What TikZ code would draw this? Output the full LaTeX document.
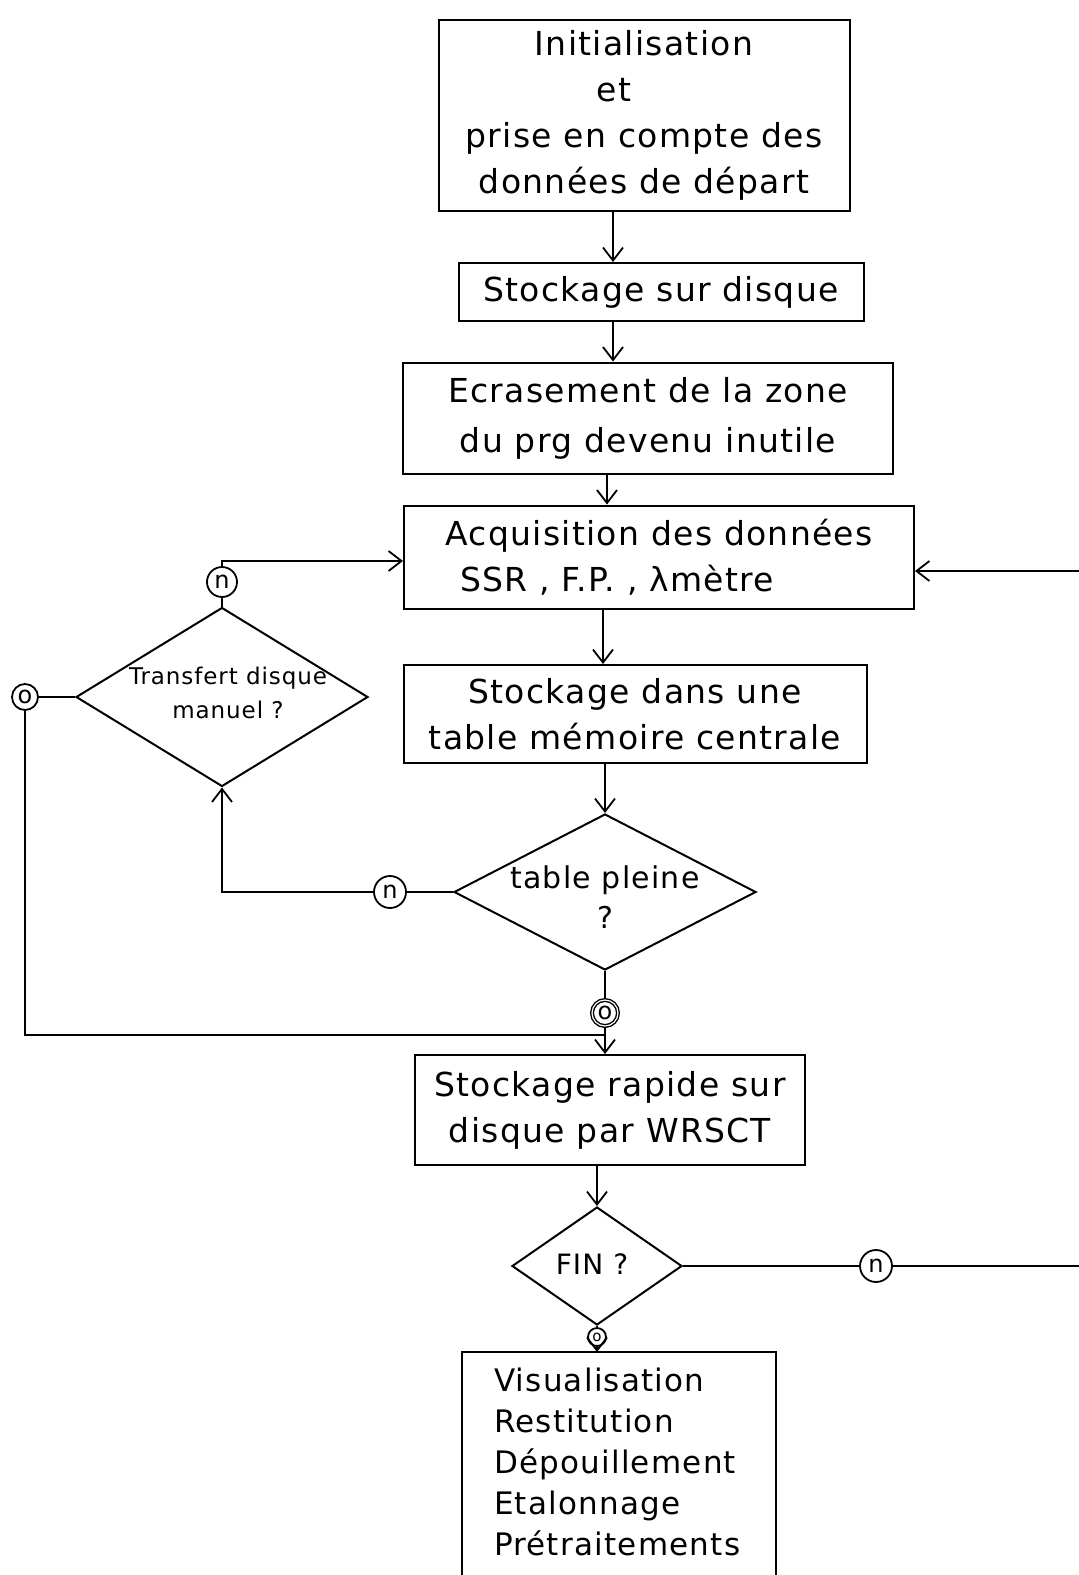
\documentclass[tikz,border=0pt]{standalone}
\usepackage{fontspec}
\setmainfont[LetterSpace=4]{DejaVu Sans}
\usetikzlibrary{shapes.geometric,arrows.meta,calc}
\begin{document}
\begin{tikzpicture}[x=1pt,y=-1pt,
  line width=2pt,
  boxnode/.style={draw,rectangle,inner sep=0pt,align=center,font=\fontsize{33}{46}\selectfont},
  dianode/.style={draw,diamond,inner sep=0pt},
  dtext/.style={inner sep=0pt,align=center},
  conn/.style={draw,circle,inner sep=0pt,line width=1.8pt,font=\fontsize{24}{24}\selectfont},
  arr/.style={-{Straight Barb[length=13pt,width=20pt,line width=1.8pt]}}
]
\useasboundingbox[fill=white] (0,0) rectangle (1079,1575);

% boxes
\node[boxnode,minimum width=411pt,minimum height=191pt] (b1) at (644,115)
  {Initialisation\\\hspace*{-60pt}et\\prise en compte des\\données de départ};
\node[boxnode,minimum width=405pt,minimum height=58pt] (b2) at (661,292) {Stockage sur disque};
\node[boxnode,minimum width=490pt,minimum height=111pt,font=\fontsize{33}{50}\selectfont] (b3) at (648,418)
  {Ecrasement de la zone\\du prg devenu inutile};
\node[boxnode,minimum width=510pt,minimum height=103pt,align=left] (b4) at (659,557)
  {Acquisition des données\\\hspace*{15pt}SSR , F.P. , λmètre};
\node[boxnode,minimum width=463pt,minimum height=98pt] (b5) at (635,714)
  {Stockage dans une\\table mémoire centrale};
\node[boxnode,minimum width=390pt,minimum height=110pt] (b6) at (610,1110)
  {Stockage rapide sur\\disque par WRSCT};
\node[inner sep=0pt,minimum width=312pt,minimum height=218pt,text width=250pt,align=left,
  font=\fontsize{31}{41}\selectfont] (b7) at (619,1462)
  {Visualisation\\Restitution\\Dépouillement\\Etalonnage\\Prétraitements};
\draw ([yshift=-40pt]b7.south west) -- (b7.north west) -- (b7.north east) -- ([yshift=-40pt]b7.south east);

% diamonds
\node[dianode,minimum width=292pt,minimum height=179pt] (d1) at (222,697) {};
\node[dtext,font=\fontsize{23}{34}\selectfont] (d1t) at (228,693) {Transfert disque\\manuel ?};
\node[dianode,minimum width=302pt,minimum height=156pt] (d2) at (605,892) {};
\node[dtext,font=\fontsize{30}{40}\selectfont] (d2t) at (605,897) {table pleine\\?};
\node[dianode,minimum width=170pt,minimum height=118pt] (d3) at (597,1266) {};
\node[dtext,font=\fontsize{28}{28}\selectfont] (d3t) at (592,1264) {FIN ?};

% connector circles
\node[conn,minimum size=30pt] (n1) at (222,582) {n};
\node[conn,minimum size=26pt] (o1) at (25,697) {o};
\node[conn,minimum size=32pt] (n2) at (390,892) {n};
\node[conn,minimum size=26pt,double,double distance=1.2pt,line width=1.4pt] (o2) at (605,1013) {o};
\node[conn,minimum size=32pt] (n3) at (876,1266) {n};
\node[conn,minimum size=18pt,font=\fontsize{15}{15}\selectfont] (o3) at (597,1337) {o};

\coordinate (xa) at (613,0);
\coordinate (xb) at (607,0);
\coordinate (xc) at (603,0);
\coordinate (rt) at (1100,0);
\coordinate (jn) at (605,1035);

% main chain
\draw[arr] (b1.south -| xa) -- (b2.north -| xa);
\draw[arr] (b2.south -| xa) -- (b3.north -| xa);
\draw[arr] (b3.south -| xb) -- (b4.north -| xb);
\draw[arr] (b4.south -| xc) -- (b5.north -| xc);
\draw[arr] (b5.south -| d2.north) -- (d2.north);
\draw (d2.south) -- (o2);
\draw[arr] (o2) -- (o2 |- b6.north);
\draw[arr] (b6.south -| d3.north) -- (d3.north);
\draw (d3.south) -- (o3);
\draw[arr] (o3) -- (o3 |- b7.north);

% table pleine : non
\draw (d2.west) -- (n2);
\draw[arr] (n2) -- (n2 -| d1.south) -- (d1.south);

% transfert manuel : non
\draw (d1.north) -- (n1);
\draw[arr] (n1) |- ([yshift=-4pt]b4.west);

% transfert manuel : oui
\draw (d1.west) -- (o1);
\draw (o1) |- (jn);

% FIN : non
\draw (d3.east) -- (n3);
\draw[arr] (n3) -- (n3 -| rt) |- ([yshift=-14pt]b4.east);
\end{tikzpicture}
\end{document}
